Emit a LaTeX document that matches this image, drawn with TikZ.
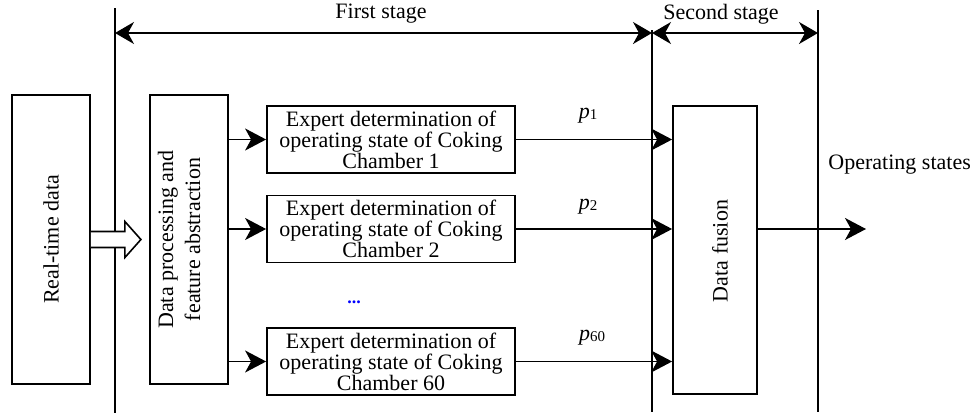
\documentclass[tikz,border=0pt]{standalone}
\usepackage{fontspec}
\setmainfont{Liberation Serif}
\usetikzlibrary{arrows.meta,calc}
\newcommand{\prob}[1]{\textit{p}\raisebox{-1pt}{\fontsize{15}{15}\selectfont #1}}
\begin{document}
\begin{tikzpicture}[x=1pt,y=-1pt,
  box/.style={draw,line width=1.8pt,inner sep=0pt},
  expert/.style={box,minimum width=248pt,minimum height=67pt,align=center,
    font=\fontsize{22}{20}\selectfont},
  tall/.style={box,minimum width=78pt,minimum height=289pt},
  sep/.style={line width=1.6pt},
  flow/.style={line width=1.5pt,-{Stealth[length=21pt,width=22pt,inset=6pt]}},
  span/.style={line width=1.5pt,{Stealth[length=19pt,width=22pt,inset=6pt]}-{Stealth[length=19pt,width=22pt,inset=6pt]}},
  lbl/.style={font=\fontsize{22}{22}\selectfont},
]
\useasboundingbox (0,0) rectangle (972,418);

% stage separators
\coordinate (v1t) at (115,8);   \coordinate (v1b) at (115,413);
\coordinate (v2t) at (652,30);  \coordinate (v2b) at (652,412);
\coordinate (v3t) at (818,10);  \coordinate (v3b) at (818,412);
\draw[sep] (v1t) -- (v1b);
\draw[sep] (v2t) -- (v2b);
\draw[sep] (v3t) -- (v3b);

% stage spans
\coordinate (s1) at (115,33); \coordinate (s2) at (652,33); \coordinate (s3) at (818,33);
\draw[span] (s1) -- (s2);
\draw[span] (s2) -- (s3);
\node[lbl] (first) at (381,14) {First stage};
\node[lbl] (second) at (721,14) {Second stage};

% input and preprocessing blocks
\node[tall] (rt) at (51,239.5) {};
\node[lbl,rotate=90] (rtl) at (rt.center) {Real-time data};
\node[tall] (dp) at (189,239.5) {};
\node[lbl,rotate=90,align=center,font=\fontsize{22}{27}\selectfont] (dpl) at ($(dp.center)+(-10,0)$) {Data processing and\\feature abstraction};

% hollow transfer arrow
\draw[line width=1.6pt,fill=white]
  ($(rt.east)+(0,-8)$) -- ++(34,0) -- ++(0,-10) -- ($(rt.east)+(50,0)$)
  -- ($(rt.east)+(34,18)$) -- ++(0,-10) -- ($(rt.east)+(0,8)$);

% expert determination blocks
\node[expert] (e1) at (391,139.5) {Expert determination of\\operating state of Coking\\Chamber 1};
\node[expert] (e2) at (391,229) {Expert determination of\\operating state of Coking\\Chamber 2};
\node[expert] (e3) at (391,361.5) {Expert determination of\\operating state of Coking\\Chamber 60};
\node[text=blue,font=\fontsize{18}{18}\bfseries\selectfont] (dots) at (354,302) {...};

% fusion block
\node[box,minimum width=84pt,minimum height=288pt] (fu) at (715,250) {};
\node[lbl,rotate=90] (ful) at (720,251) {Data fusion};

% connectors
\foreach \e in {e1,e2,e3}{
  \draw[flow] (dp.east |- \e.west) -- (\e.west);
  \draw[flow] (\e.east) -- (fu.west |- \e.east);
}
\node[lbl] (p1) at (588,116) {\prob{1}};
\node[lbl] (p2) at (588,207) {\prob{2}};
\node[lbl] (p60) at (592,338) {\prob{60}};

% output
\coordinate (out) at (866,229);
\draw[flow] (fu.east |- out) -- (out);
\node[lbl,anchor=east,inner xsep=1pt] (os) at (972,165) {Operating states};
\end{tikzpicture}
\end{document}
